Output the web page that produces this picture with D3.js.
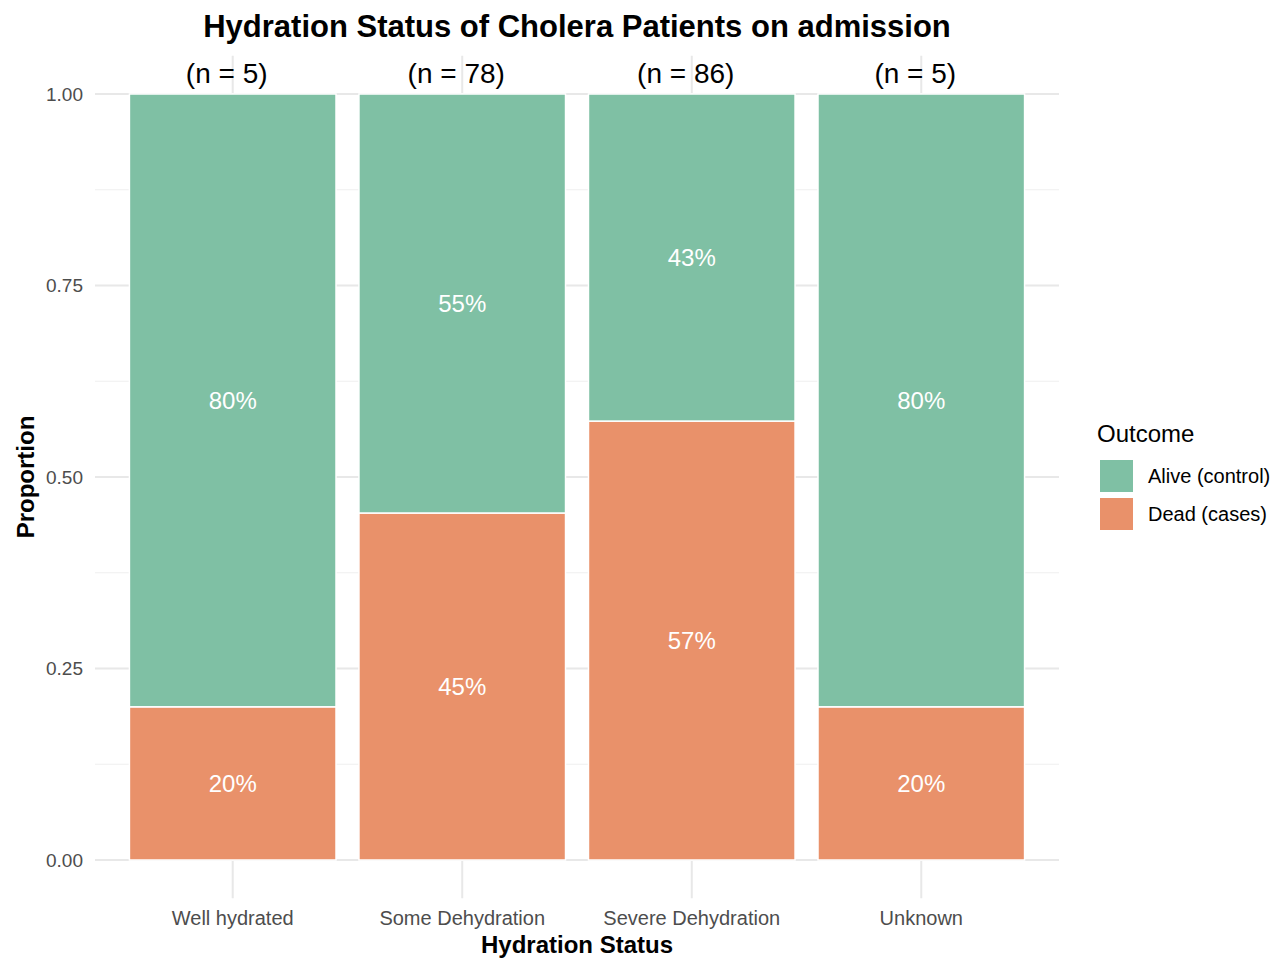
<!DOCTYPE html>
<html>
<head>
<meta charset="utf-8">
<script src="https://cdn.jsdelivr.net/npm/d3@7"></script>
<style>
  body { margin: 0; background: #fff; }
  svg { font-family: "Liberation Sans", Arial, sans-serif; }
</style>
</head>
<body>
<div id="chart"></div>
<script>
// dados
const categorias = ["Well hydrated", "Some Dehydration", "Severe Dehydration", "Unknown"];
const totais = [5, 78, 86, 5];
const propMortos = [0.20, 0.453, 0.573, 0.20];
const propVivos = [0.80, 0.547, 0.427, 0.80];
const desfechos = ["Alive (control)", "Dead (cases)"];
const ticksY = [0, 0.25, 0.5, 0.75, 1];
const ticksMenores = [0.125, 0.375, 0.625, 0.875];

const cores = d3.scaleOrdinal().domain(desfechos).range(["#7FC0A4", "#E9916A"]);

const W = 1280, H = 964;
const svg = d3.select("#chart").append("svg").attr("width", W).attr("height", H);

const x = d3.scaleBand().domain(categorias).range([95, 1059]).paddingInner(0.1).paddingOuter(0.15);
const y = d3.scaleLinear().domain([0, 1]).range([860, 94]);
const topoPainel = y(1.05), basePainel = y(-0.05);

// grade
const grade = svg.append("g");
grade.selectAll(".menor").data(ticksMenores).join("line")
  .attr("x1", 95).attr("x2", 1059)
  .attr("y1", d => y(d)).attr("y2", d => y(d))
  .attr("stroke", "#EFEFEF").attr("stroke-width", 1);
grade.selectAll(".maior").data(ticksY).join("line")
  .attr("x1", 95).attr("x2", 1059)
  .attr("y1", d => y(d)).attr("y2", d => y(d))
  .attr("stroke", "#E8E8E8").attr("stroke-width", 2);
grade.selectAll(".vert").data(categorias).join("line")
  .attr("x1", d => x(d) + x.bandwidth() / 2).attr("x2", d => x(d) + x.bandwidth() / 2)
  .attr("y1", topoPainel).attr("y2", basePainel)
  .attr("stroke", "#E8E8E8").attr("stroke-width", 2);

// empilhamento
const linhas = categorias.map((c, i) => ({ cat: c, "Dead (cases)": propMortos[i], "Alive (control)": propVivos[i] }));
const pilha = d3.stack().keys(["Dead (cases)", "Alive (control)"])(linhas);

const camadas = svg.selectAll(".camada").data(pilha).join("g")
  .attr("fill", d => cores(d.key));

camadas.selectAll("rect").data(d => d).join("rect")
  .attr("x", d => x(d.data.cat))
  .attr("width", x.bandwidth())
  .attr("y", d => y(d[1]))
  .attr("height", d => y(d[0]) - y(d[1]))
  .attr("stroke", "#fff").attr("stroke-width", 1.5);

camadas.selectAll("text").data(d => d).join("text")
  .attr("x", d => x(d.data.cat) + x.bandwidth() / 2)
  .attr("y", d => y((d[0] + d[1]) / 2))
  .attr("dy", "0.35em")
  .attr("text-anchor", "middle")
  .attr("fill", "#fff")
  .style("font-size", "24px")
  .text(d => Math.round((d[1] - d[0]) * 100) + "%");

// eixos
const eixoY = svg.append("g").attr("transform", "translate(95,0)")
  .call(d3.axisLeft(y).tickValues(ticksY).tickSize(0).tickPadding(12).tickFormat(d3.format(".2f")));
eixoY.select(".domain").remove();
eixoY.selectAll("text").style("font-size", "19px").attr("fill", "#4D4D4D")
  .style("font-family", "Liberation Sans, Arial, sans-serif");

const eixoX = svg.append("g").attr("transform", `translate(0,${basePainel})`)
  .call(d3.axisBottom(x).tickSize(0).tickPadding(13));
eixoX.select(".domain").remove();
eixoX.selectAll("text").style("font-size", "20px").attr("fill", "#4D4D4D")
  .style("font-family", "Liberation Sans, Arial, sans-serif");

// rótulos n
svg.selectAll(".n").data(categorias).join("text")
  .attr("x", d => x(d) + x.bandwidth() / 2 - 6)
  .attr("y", 83)
  .attr("text-anchor", "middle")
  .style("font-size", "28px")
  .attr("fill", "#000")
  .text((d, i) => `(n = ${totais[i]})`);

// títulos
svg.append("text").attr("x", 577).attr("y", 37).attr("text-anchor", "middle")
  .style("font-size", "31px").style("font-weight", "bold")
  .text("Hydration Status of Cholera Patients on admission");

svg.append("text").attr("x", 577).attr("y", 953).attr("text-anchor", "middle")
  .style("font-size", "24px").style("font-weight", "bold")
  .text("Hydration Status");

svg.append("text").attr("transform", `translate(34,${(topoPainel + basePainel) / 2}) rotate(-90)`)
  .attr("text-anchor", "middle")
  .style("font-size", "24px").style("font-weight", "bold")
  .text("Proportion");

// legenda
const legenda = svg.append("g").attr("transform", "translate(1097,0)");
legenda.append("text").attr("x", 0).attr("y", 442).style("font-size", "24px").text("Outcome");
const itens = legenda.selectAll(".item").data(desfechos).join("g")
  .attr("transform", (d, i) => `translate(3,${460 + i * 38})`);
itens.append("rect").attr("width", 33).attr("height", 32).attr("fill", d => cores(d));
itens.append("text").attr("x", 48).attr("y", 16).attr("dy", "0.35em")
  .style("font-size", "20px").text(d => d);
</script>
</body>
</html>
